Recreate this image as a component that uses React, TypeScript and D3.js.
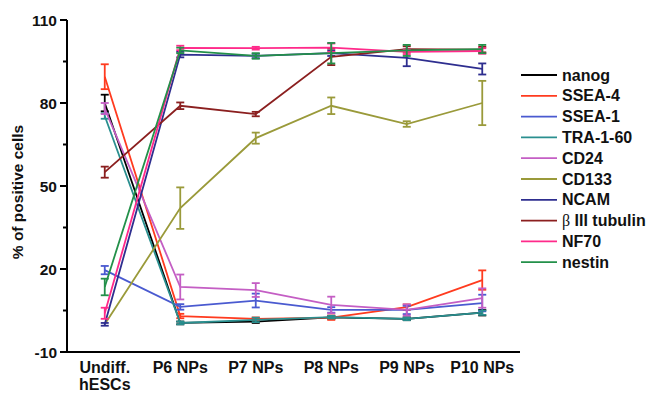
import React from 'react';
import { scaleLinear, scalePoint, line } from 'd3';

const categories = ['Undiff.|hESCs', 'P6 NPs', 'P7 NPs', 'P8 NPs', 'P9 NPs', 'P10 NPs'];
const yTicks = [-10, 20, 50, 80, 110];
const yMinorTicks = [5, 35, 65, 95];

const seriesNames = ['nanog', 'SSEA-4', 'SSEA-1', 'TRA-1-60', 'CD24', 'CD133', 'NCAM', 'β III tubulin', 'NF70', 'nestin'];
const seriesColors = ['#000000', '#ff3b1f', '#4a5ad0', '#2a8f8f', '#c45ec4', '#9a9a3a', '#2e2e8f', '#8b1f1f', '#ff2a8a', '#23904a'];

const nanog = [80, 0.5, 1, 2.5, 2, 4.2];
const nanogErr = [3, 0.5, 0.5, 0.5, 0.5, 1];
const ssea4 = [89.5, 3, 2, 2.4, 6.2, 16];
const ssea4Err = [4.5, 0.8, 0.5, 0.8, 1, 3.5];
const ssea1 = [19.6, 6.3, 8.6, 5.2, 5.2, 7.7];
const ssea1Err = [1.5, 1, 2.5, 1, 1.5, 3];
const tra160 = [75.3, 0.5, 1.6, 2.6, 2, 4.2];
const tra160Err = [1, 0.5, 0.8, 0.5, 0.5, 0.8];
const cd24 = [78, 13.5, 12.4, 7, 5.2, 9.5];
const cd24Err = [2, 4.5, 2.5, 3, 2, 3.5];
const cd133 = [0, 42, 67.3, 79, 72.4, 80];
const cd133Err = [0, 7.5, 2, 3, 1, 8];
const ncam = [0, 97.5, 97, 98, 96.3, 92.3];
const ncamErr = [0.5, 1, 0.8, 1, 3, 2];
const tubulin = [55, 79, 76, 96.7, 99.5, 99.3];
const tubulinErr = [2, 1.2, 0.8, 3, 1, 1];
const nf70 = [4, 99.9, 99.8, 100, 98.5, 98.8];
const nf70Err = [2, 0.8, 0.5, 1.5, 0.8, 1];
const nestin = [13.5, 99, 97, 98, 99, 99.5];
const nestinErr = [3, 1, 1, 3.7, 2, 1.5];

const seriesValues = [nanog, ssea4, ssea1, tra160, cd24, cd133, ncam, tubulin, nf70, nestin];
const seriesErrors = [nanogErr, ssea4Err, ssea1Err, tra160Err, cd24Err, cd133Err, ncamErr, tubulinErr, nf70Err, nestinErr];

const W = 649;
const H = 393;
const left = 67;
const right = 520;
const top = 20;
const bottom = 352;
const font = '"Liberation Sans", Arial, sans-serif';

export default function App() {
  const x = scalePoint<string>().domain(categories).range([left, right]).padding(0.5);
  const y = scaleLinear().domain([-10, 110]).range([bottom, top]);

  const path = line<number>()
    .x((d, i) => x(categories[i]) as number)
    .y(d => y(d));

  return (
    <svg width={W} height={H} style={{ position: 'absolute', left: 0, top: 0, background: '#fff' }}>
      {/* series */}
      {seriesValues.map((vals, s) => (
        <g key={seriesNames[s]} stroke={seriesColors[s]} fill="none" strokeWidth={1.8}>
          <path d={path(vals) || ''} />
          {vals.map((v, i) => {
            const cx = x(categories[i]) as number;
            const e = seriesErrors[s][i];
            if (e <= 0) return null;
            const y1 = y(v + e);
            const y2 = y(v - e);
            return (
              <g key={i}>
                <line x1={cx} x2={cx} y1={y1} y2={y2} />
                <line x1={cx - 4} x2={cx + 4} y1={y1} y2={y1} />
                <line x1={cx - 4} x2={cx + 4} y1={y2} y2={y2} />
              </g>
            );
          })}
        </g>
      ))}

      {/* axes */}
      <g stroke="#000" strokeWidth={2}>
        <line x1={left} x2={left} y1={top} y2={bottom + 1} />
        <line x1={left - 1} x2={right} y1={bottom} y2={bottom} />
        {yTicks.map(t => (
          <line key={t} x1={left - 7} x2={left} y1={y(t)} y2={y(t)} />
        ))}
        {yMinorTicks.map(t => (
          <line key={t} x1={left - 4} x2={left} y1={y(t)} y2={y(t)} />
        ))}
      </g>
      <g fontFamily={font} fontWeight="bold" fill="#111">
        {yTicks.map(t => (
          <text key={t} x={left - 10} y={y(t)} dy="0.36em" textAnchor="end" fontSize={15.5}>{t}</text>
        ))}
        {categories.map(c => {
          const parts = c.split('|');
          return (
            <text key={c} x={x(c) as number} y={bottom + 21} textAnchor="middle" fontSize={16}>
              {parts.map((p, k) => (
                <tspan key={k} x={x(c) as number} dy={k === 0 ? 0 : 17}>{p}</tspan>
              ))}
            </text>
          );
        })}
        <text transform={`translate(23,${(top + bottom) / 2 + 6}) rotate(-90)`} textAnchor="middle" fontSize={15.5}>% of positive cells</text>
      </g>

      {/* legend */}
      <g fontFamily={font} fontWeight="bold" fontSize={16} fill="#111">
        {seriesNames.map((n, i) => {
          const ly = 75 + i * 20.8;
          return (
            <g key={n}>
              <line x1={521} x2={557} y1={ly} y2={ly} stroke={seriesColors[i]} strokeWidth={1.8} />
              <text x={562} y={ly} dy="0.35em">
                {n.startsWith('β') ? (
                  <>
                    <tspan fontWeight="normal" fontFamily='"Liberation Serif", serif'>β</tspan>
                    {n.slice(1)}
                  </>
                ) : n}
              </text>
            </g>
          );
        })}
      </g>
    </svg>
  );
}
